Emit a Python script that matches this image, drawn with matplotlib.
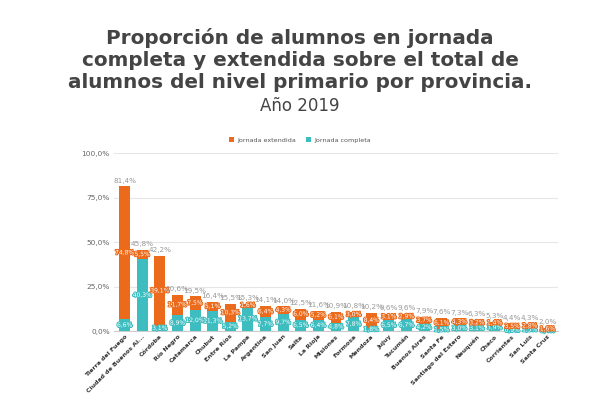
import matplotlib
matplotlib.use("Agg")
import matplotlib.pyplot as plt
import matplotlib.patheffects as pe
from matplotlib.ticker import FuncFormatter
import numpy as np

provincias = ["Tierra del Fuego", "Ciudad de Buenos Ai...", "Córdoba", "Río Negro", "Catamarca",
              "Chubut", "Entre Ríos", "La Pampa", "Argentina", "San Juan", "Salta", "La Rioja",
              "Misiones", "Formosa", "Mendoza", "Jujuy", "Tucumán", "Buenos Aires", "Santa Fe",
              "Santiago del Estero", "Neuquén", "Chaco", "Corrientes", "San Luis", "Santa Cruz"]
completa = [6.6, 40.3, 3.1, 8.9, 12.0, 11.3, 5.2, 13.7, 7.7, 9.7, 6.5, 6.4, 4.8, 7.8, 1.8,
            6.5, 6.7, 4.2, 1.5, 3.0, 3.1, 3.9, 0.9, 1.5, 0.4]
extendida = [74.8, 5.5, 39.1, 11.7, 7.5, 5.1, 10.3, 1.6, 6.4, 4.3, 6.0, 5.2, 6.1, 3.0, 8.4,
             3.1, 2.9, 3.7, 6.1, 4.3, 3.2, 1.4, 3.5, 2.8, 1.6]
totales = [81.4, 45.8, 42.2, 20.6, 19.5, 16.4, 15.5, 15.3, 14.1, 14.0, 12.5, 11.6, 10.9, 10.8,
           10.2, 9.6, 9.6, 7.9, 7.6, 7.3, 6.3, 5.3, 4.4, 4.3, 2.0]
yticks = [0, 25, 50, 75, 100]

c_ext = "#EB6A1B"
c_comp = "#3DBDBF"

fig = plt.figure(figsize=(6, 4), dpi=100)
fig.patch.set_facecolor("white")
ax = fig.add_axes([0.19, 0.172, 0.74, 0.445])

x = np.arange(len(provincias))
w = 0.62
ax.bar(x, completa, w, color=c_comp, label="Jornada completa", zorder=2)
ax.bar(x, extendida, w, bottom=completa, color=c_ext, label="Jornada extendida", zorder=2)

def fmt(v):
    return f"{v:.1f}%".replace(".", ",")

for i in range(len(x)):
    ax.text(x[i], completa[i] / 2, fmt(completa[i]), ha="center", va="center", fontsize=4.3,
            color="white", zorder=4,
            path_effects=[pe.withStroke(linewidth=1.5, foreground=c_comp)])
    ax.text(x[i], completa[i] + extendida[i] / 2, fmt(extendida[i]), ha="center", va="center",
            fontsize=4.3, color="white", zorder=4,
            path_effects=[pe.withStroke(linewidth=1.5, foreground=c_ext)])
    ax.text(x[i], totales[i] + 1.5, fmt(totales[i]), ha="center", va="bottom", fontsize=5.2,
            color="#999999", zorder=4)

ax.set_xlim(-0.6, len(x) - 0.4)
ax.set_ylim(0, 100)
ax.set_yticks(yticks)
ax.yaxis.set_major_formatter(FuncFormatter(lambda v, p: f"{v:.1f}%".replace(".", ",")))
ax.tick_params(axis="y", labelsize=5.3, colors="#666666", length=0, pad=3)
ax.tick_params(axis="x", length=0, pad=2)
ax.set_xticks(x)
ax.set_xticklabels(provincias, rotation=45, ha="right", rotation_mode="anchor",
                   fontsize=4.5, fontweight="bold", color="#333333")
ax.grid(axis="y", color="#e6e6e6", linewidth=0.8, zorder=0)
for s in ["top", "right", "left"]:
    ax.spines[s].set_visible(False)
ax.spines["bottom"].set_color("#cccccc")

handles, labels = ax.get_legend_handles_labels()
leg = fig.legend(handles[::-1], labels[::-1], loc="center", bbox_to_anchor=(0.5, 0.65), ncol=2,
                 frameon=False, fontsize=4.6, handlelength=0.8, handleheight=0.8,
                 columnspacing=1.5, handletextpad=0.6)
for t in leg.get_texts():
    t.set_color("#555555")

fig.text(0.5, 0.85, "Proporción de alumnos en jornada\ncompleta y extendida sobre el total de\nalumnos del nivel primario por provincia.",
         ha="center", va="center", fontsize=14.4, fontweight="bold", color="#444444",
         linespacing=1.22)
fig.text(0.5, 0.735, "Año 2019", ha="center", va="center", fontsize=12, color="#444444")

fig.savefig("out.png", dpi=100, facecolor="white")
